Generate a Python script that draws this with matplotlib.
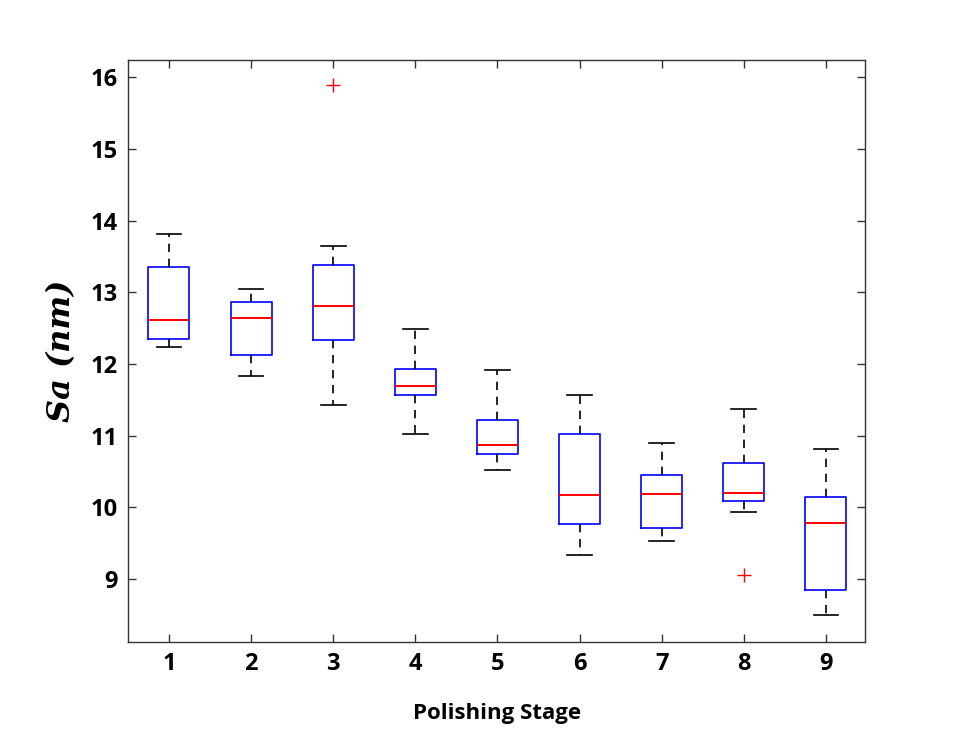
import matplotlib
matplotlib.use("Agg")
import matplotlib.pyplot as plt

# Sa values, one entry per polishing stage
stages = [1, 2, 3, 4, 5, 6, 7, 8, 9]
whisker_low = [12.23, 11.83, 11.43, 11.02, 10.52, 9.33, 9.53, 9.93, 8.50]
q1 = [12.35, 12.12, 12.33, 11.56, 10.74, 9.77, 9.71, 10.09, 8.85]
medians = [12.62, 12.64, 12.81, 11.69, 10.87, 10.17, 10.18, 10.20, 9.78]
q3 = [13.36, 12.86, 13.38, 11.93, 11.22, 11.02, 10.45, 10.62, 10.14]
whisker_high = [13.82, 13.04, 13.64, 12.49, 11.91, 11.56, 10.90, 11.37, 10.81]
outliers = [[], [], [15.89], [], [], [], [], [9.05], []]

def main():
    stats = []
    for i in range(len(stages)):
        stats.append({
            "whislo": whisker_low[i],
            "q1": q1[i],
            "med": medians[i],
            "q3": q3[i],
            "whishi": whisker_high[i],
            "fliers": outliers[i],
        })

    fig = plt.figure(figsize=(9.69, 7.43), dpi=100)
    ax = fig.add_axes([0.132, 0.136, 0.761, 0.783])

    ax.bxp(
        stats,
        positions=stages,
        widths=0.5,
        capwidths=0.3,
        boxprops=dict(color="blue", linewidth=1.2),
        medianprops=dict(color="red", linewidth=1.4),
        whiskerprops=dict(color="black", linestyle=(0, (5, 4)), linewidth=1.2),
        capprops=dict(color="black", linewidth=1.2),
        flierprops=dict(marker="+", markeredgecolor="red", markersize=10, markeredgewidth=1.0),
    )

    ax.set_xlim(0.5, 9.48)
    ax.set_ylim(8.12, 16.24)
    ax.set_xticks(stages)
    ax.set_xticklabels([str(s) for s in stages])
    ax.set_yticks([9, 10, 11, 12, 13, 14, 15, 16])

    ax.tick_params(direction="in", top=True, right=True, length=6, width=1, color="#333333", pad=7)
    for lbl in ax.get_xticklabels() + ax.get_yticklabels():
        lbl.set_fontfamily("Open Sans")
        lbl.set_fontweight("bold")
        lbl.set_fontsize(17)
    for spine in ax.spines.values():
        spine.set_color("#333333")
        spine.set_linewidth(1.0)

    ax.set_xlabel("Polishing Stage", fontfamily="Open Sans", fontweight="bold", fontsize=16, labelpad=20)
    ax.set_ylabel("Sa (nm)", fontfamily="DejaVu Serif", fontstyle="italic", fontweight="bold", fontsize=23, labelpad=10)

    fig.savefig("out.png", dpi=100)
    plt.close(fig)

if __name__ == '__main__':
    main()
